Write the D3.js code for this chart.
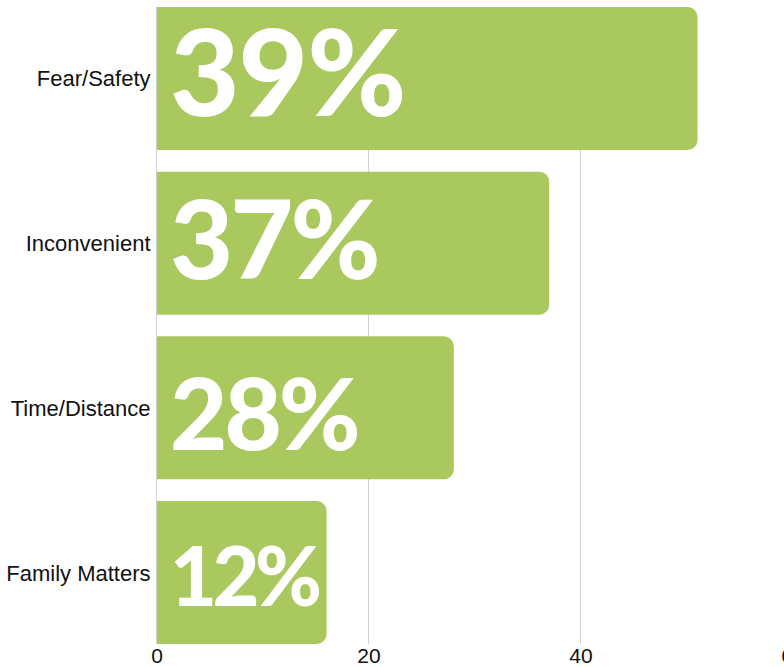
<!DOCTYPE html>
<html>
<head>
<meta charset="utf-8">
<script src="https://cdn.jsdelivr.net/npm/d3@7/dist/d3.min.js"></script>
<style>
  html, body { margin: 0; padding: 0; background: #fff; }
  svg { display: block; }
</style>
</head>
<body>
<svg id="chart" width="784" height="667"></svg>
<script>
// ---- data ----
const categories = ["Fear/Safety", "Inconvenient", "Time/Distance", "Family Matters"];
const values = [51, 37, 28, 16];
const barLabels = ["39%", "37%", "28%", "12%"];
const xTicks = [0, 20, 40, 60];

// ---- styles (per-label size / baseline offset / spacing) ----
const labelSize = [120, 109, 99, 81];
const labelDy = [37.5, 36, 42, 33.5];
const labelSpacing = [-1, -3, -3, -4.5];

const W = 784, H = 667;
const svg = d3.select("#chart");

const x = d3.scaleLinear().domain([0, 60]).range([157, 793]);
const y = d3.scaleBand().domain(categories).range([7, 644]).paddingInner(0.132).paddingOuter(0);

// gridlines
svg.append("g").selectAll("line").data(xTicks).join("line")
  .attr("x1", d => x(d) - 0.5).attr("x2", d => x(d) - 0.5)
  .attr("y1", 7).attr("y2", 644)
  .attr("stroke", "#d0d0d0").attr("stroke-width", 1);

// x tick labels
svg.append("g").selectAll("text").data(xTicks).join("text")
  .attr("x", d => x(d)).attr("y", 663)
  .attr("text-anchor", "middle")
  .attr("font-family", "Liberation Sans, Arial, sans-serif")
  .attr("font-size", 21)
  .attr("fill", "#111")
  .text(d => d);

// bars: square left, rounded right
const r = 10;
function barPath(d, i) {
  const x0 = x(0), x1 = x(d), y0 = y(categories[i]), h = y.bandwidth();
  return `M${x0},${y0} H${x1 - r} A${r},${r} 0 0 1 ${x1},${y0 + r} V${y0 + h - r} A${r},${r} 0 0 1 ${x1 - r},${y0 + h} H${x0} Z`;
}
svg.append("g").selectAll("path").data(values).join("path")
  .attr("d", barPath)
  .attr("fill", "#a9c85e");

// category labels
svg.append("g").selectAll("text").data(categories).join("text")
  .attr("x", 150.5)
  .attr("y", d => y(d) + y.bandwidth() / 2 + 8)
  .attr("text-anchor", "end")
  .attr("font-family", "Liberation Sans, Arial, sans-serif")
  .attr("font-size", 22)
  .attr("fill", "#111")
  .text(d => d);

// big value labels
svg.append("g").selectAll("text").data(barLabels).join("text")
  .attr("x", 170)
  .attr("y", (d, i) => y(categories[i]) + y.bandwidth() / 2 + labelDy[i])
  .attr("font-family", "Lato, sans-serif")
  .attr("font-weight", 900)
  .attr("font-size", (d, i) => labelSize[i])
  .attr("letter-spacing", (d, i) => labelSpacing[i])
  .attr("fill", "#fff")
  .text(d => d);
</script>
</body>
</html>
